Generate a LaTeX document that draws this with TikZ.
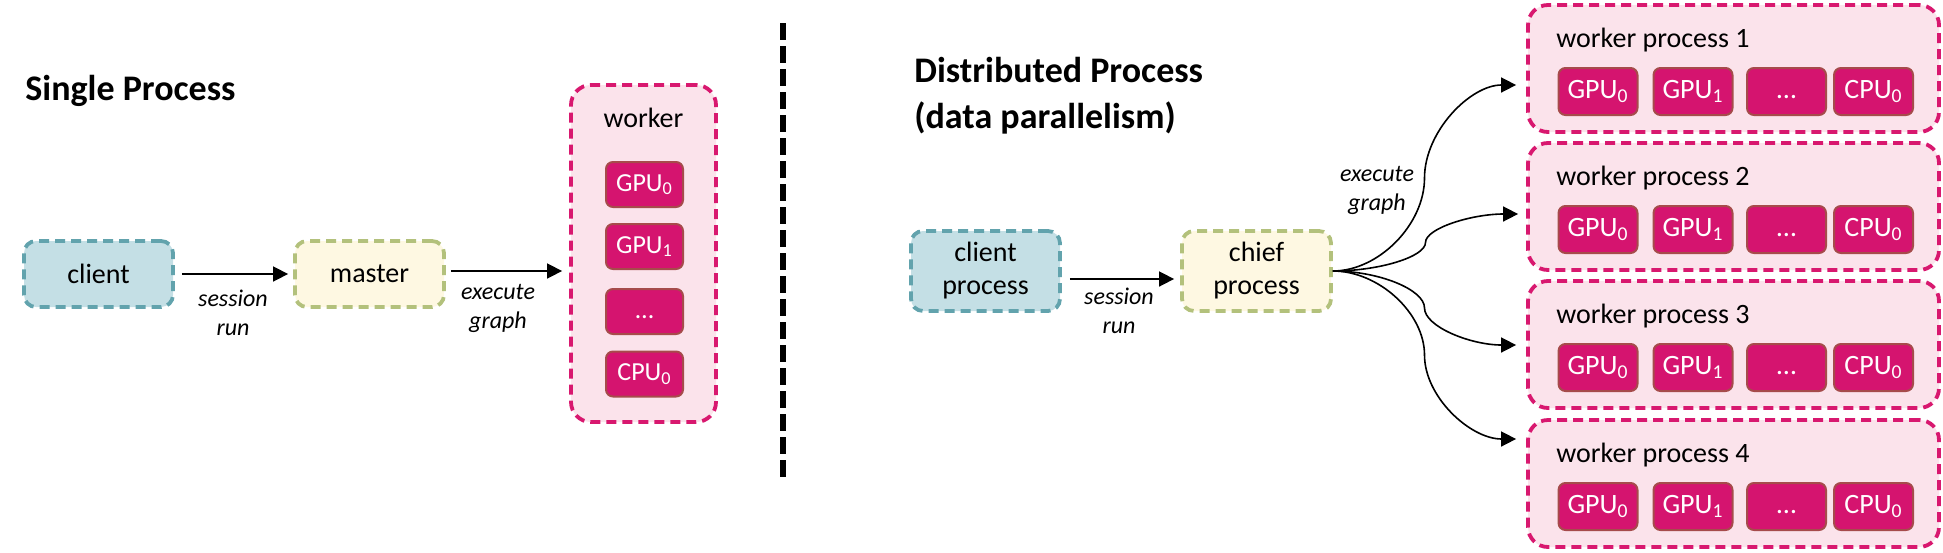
\documentclass[tikz,border=0pt]{standalone}
\usepackage{fontspec}
\setmainfont{Carlito}
\usetikzlibrary{arrows.meta,calc}
\definecolor{tealc}{HTML}{62A3AD}
\definecolor{clientfill}{HTML}{C4DFE5}
\definecolor{olivec}{HTML}{B3C17C}
\definecolor{masterfill}{HTML}{FEF8E2}
\definecolor{magc}{HTML}{D8186F}
\definecolor{workerfill}{HTML}{FBE3EB}
\definecolor{chipfill}{HTML}{D5146F}
\definecolor{chipborder}{HTML}{A64B4B}
\newcommand{\sconnect}[2]{%
  \draw[arr] let \p1=(#1), \p2=(#2) in
    (\p1) .. controls ({0.75*\x1+0.25*\x2},\y1) and ({0.5*\x1+0.5*\x2},{0.75*\y1+0.25*\y2}) ..
    ({0.5*\x1+0.5*\x2},{0.5*\y1+0.5*\y2}) .. controls ({0.5*\x1+0.5*\x2},{0.25*\y1+0.75*\y2}) and ({0.25*\x1+0.75*\x2},\y2) .. (\p2);}
\newcommand{\chipdots}{\vphantom{GPU\textsubscript{0}}\ldots}
\begin{document}
\begin{tikzpicture}[x=0.5pt,y=-0.5pt,
  dbox/.style={rounded corners=6pt, line width=1.9pt, dash pattern=on 5pt off 3pt,
    inner sep=0pt, align=center, font=\fontsize{14}{16.5}\selectfont},
  clientbox/.style={dbox, draw=tealc, fill=clientfill, minimum width=74.5pt},
  masterbox/.style={dbox, draw=olivec, fill=masterfill, minimum width=74.5pt},
  workerbox/.style={dbox, draw=magc, fill=workerfill, rounded corners=10pt},
  chip/.style={draw=chipborder, fill=chipfill, line width=1pt, rounded corners=3.5pt,
    text=white, inner sep=0pt},
  chipA/.style={chip, minimum width=38.5pt, minimum height=22.5pt, font=\fontsize{13}{15}\selectfont},
  chipB/.style={chip, minimum width=39.5pt, minimum height=23.5pt, font=\fontsize{14}{16}\selectfont},
  arr/.style={-{Triangle[length=7.5pt,width=7.5pt]}, line width=0.8pt},
  lbl/.style={font=\fontsize{12}{14.5}\selectfont\itshape, align=center, inner sep=0pt},
  ttl/.style={font=\fontsize{18}{23}\selectfont\bfseries, anchor=base west, inner sep=0pt},
  wlbl/.style={font=\fontsize{14}{16.5}\selectfont, inner sep=0pt}
]
\useasboundingbox (0,0) rectangle (1943,552);

% ---------- Single process ----------
\node[ttl] (tsingle) at (25,100) {Single Process};
\node[clientbox, minimum height=33pt] (client) at (98.5,274) {client};
\node[masterbox, minimum height=33pt] (master) at (369.5,274) {master};
\node[workerbox, minimum width=72.5pt, minimum height=168.5pt] (worker) at (643.5,253.5) {};
\node[wlbl, anchor=base] (wlabel) at (643.5,127) {worker};
\node[chipA] (sg0) at (644.5,184.5) {GPU\textsubscript{0}};
\node[chipA] (sg1) at (644.5,246.5) {GPU\textsubscript{1}};
\node[chipA] (sgd) at (644.5,311.5) {\chipdots};
\node[chipA] (sc0) at (644.5,374) {CPU\textsubscript{0}};

\draw[arr] ([xshift=3.5pt]client.east) -- ([xshift=-2.5pt]master.west);
\draw[arr] ([xshift=2.5pt,yshift=1.5pt]master.east) -- ([xshift=-3.5pt,yshift=-8.75pt]worker.west);
\node[lbl] (ls1) at (233,313) {session\\run};
\node[lbl] (le1) at (498,308) {execute\\graph};

% ---------- divider ----------
\coordinate (dtop) at (783,23);
\coordinate (dbot) at (783,477);
\draw[line width=3pt, dash pattern=on 8.5pt off 3pt] (dtop) -- (dbot);

% ---------- Distributed process ----------
\node[ttl] (tdist1) at (914,82) {Distributed Process};
\node[ttl] (tdist2) at (914,128) {(data parallelism)};
\node[clientbox, minimum height=40pt] (cproc) at (985.5,271) {client\\process};
\node[masterbox, minimum height=40pt] (chief) at (1256.5,271) {chief\\process};
\draw[arr] ([xshift=4pt,yshift=-4pt]cproc.east) -- ([xshift=-3pt,yshift=-4pt]chief.west);
\node[lbl] (ls2) at (1119,311) {session\\run};
\node[lbl] (le2) at (1377,190) {execute\\graph};

\foreach \i/\t/\dy/\dx in {1/5/-8.25/-5, 2/143/-3.75/-4, 3/281/-0.25/-5, 4/420/22.25/-5} {
  \node[workerbox, minimum width=205.5pt, minimum height=63.5pt] (wp\i) at (1733.5,{\t+63.5}) {};
  \node[wlbl, anchor=base west] (wpl\i) at (1556,{\t+42}) {worker process \i};
  \node[chipB] (g0\i) at (1598,{\t+86.5}) {GPU\textsubscript{0}};
  \node[chipB] (g1\i) at (1693,{\t+86.5}) {GPU\textsubscript{1}};
  \node[chipB] (gd\i) at (1786.5,{\t+86.5}) {\chipdots};
  \node[chipB] (c0\i) at (1873.5,{\t+86.5}) {CPU\textsubscript{0}};
  \coordinate (tip\i) at ([xshift=\dx pt,yshift=\dy pt]wp\i.west);
  \sconnect{chief.east}{tip\i}
}
\end{tikzpicture}
\end{document}
